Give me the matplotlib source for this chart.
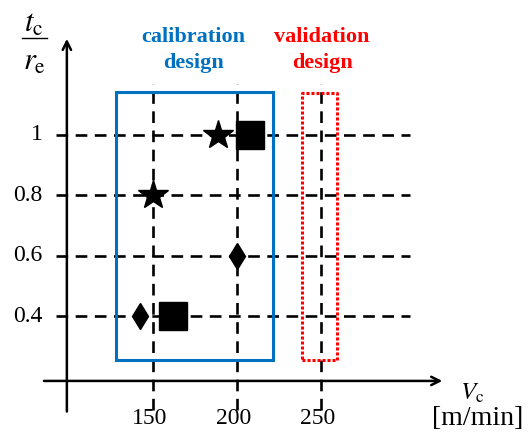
import matplotlib.pyplot as plt
from matplotlib.patches import Rectangle

plt.rcParams['lines.scale_dashes'] = False
plt.rcParams['mathtext.fontset'] = 'stix'

# grid levels of the design space
vc_levels = [150, 200, 250]
ratio_levels = [0.4, 0.6, 0.8, 1.0]
vc_tick_labels = ['150', '200', '250']
ratio_tick_labels = ['0.4', '0.6', '0.8', '1']

# calibration experiments, grouped by marker
star_vc = [189, 150]
star_ratio = [1.0, 0.8]
square_vc = [208, 162]
square_ratio = [1.0, 0.4]
diamond_vc = [200, 142.5]
diamond_ratio = [0.6, 0.4]

# design regions (Vc range, ratio range)
calib_vc = [128.5, 221.7]
calib_ratio = [0.256, 1.14]
valid_vc = [239.0, 259.8]
valid_ratio = [0.256, 1.137]

BLUE = '#0070C0'
RED = '#FF0000'

fig = plt.figure(figsize=(5.29, 4.37), dpi=100)
ax = fig.add_axes([0, 0, 1, 1])
ax.set_xlim(59.2, 374.1)
ax.set_ylim(0.002, 1.444)
ax.axis('off')

dash = (0, (8.4, 5.4))

# dashed grid
ax.hlines(ratio_levels, 92.3, 303.3, colors='black', linewidth=1.9, linestyles=[dash])
ax.vlines(vc_levels, 0.091, 1.167, colors='black', linewidth=1.9, linestyles=[dash])

# axes with arrows
arrow = dict(arrowstyle='->,head_length=0.6,head_width=0.3', lw=1.8, color='black',
             shrinkA=0, shrinkB=0)
ax.annotate('', xy=(99, 1.316), xytext=(99, 0.086), arrowprops=arrow)
ax.annotate('', xy=(322.5, 0.187), xytext=(85.4, 0.187), arrowprops=arrow)

# design regions
ax.add_patch(Rectangle((calib_vc[0], calib_ratio[0]), calib_vc[1] - calib_vc[0],
                       calib_ratio[1] - calib_ratio[0], fill=False, edgecolor=BLUE,
                       linewidth=2.2, zorder=3))
ax.add_patch(Rectangle((valid_vc[0], valid_ratio[0]), valid_vc[1] - valid_vc[0],
                       valid_ratio[1] - valid_ratio[0], fill=False, edgecolor=RED,
                       linewidth=2.2, linestyle=(0, (2.2, 1.4)), joinstyle='round', zorder=3))

# experiment points
ax.plot(star_vc, star_ratio, linestyle='none', marker='*', markersize=22, color='black', zorder=4)
ax.plot(square_vc, square_ratio, linestyle='none', marker='s', markersize=20, color='black', zorder=4)
ax.plot(diamond_vc, diamond_ratio, linestyle='none', marker='d', markersize=13.5, color='black', zorder=4)

# tick labels
for v, lab in zip(vc_levels, vc_tick_labels):
    ax.text(v - 1.5, 0.064, lab, ha='center', va='center', fontsize=17, family='Liberation Serif')
for r, lab in zip(ratio_levels, ratio_tick_labels):
    ax.text(84.5, r, lab, ha='right', va='center', fontsize=17, family='Liberation Serif')

# y axis title as a stacked fraction t_c / r_e
ax.text(79.5, 1.366, r'$t_\mathrm{c}$', ha='center', va='center', fontsize=22)
ax.plot([72.3, 86.9], [1.318, 1.318], color='black', linewidth=1.0)
ax.text(79.5, 1.240, r'$r_\mathrm{e}$', ha='center', va='center', fontsize=22)

# x axis title
ax.text(340.5, 0.147, r'$V_\mathrm{c}$', ha='center', va='center', fontsize=18)
ax.text(343.5, 0.062, '[m/min]', ha='center', va='center', fontsize=20, family='Liberation Serif')

# region titles
for txt, y in [('calibration', 1.307), ('design', 1.221)]:
    ax.text(174.1, y, txt, ha='center', va='baseline', fontsize=16,
            fontweight='bold', color=BLUE, family='Liberation Serif')
for txt, y in [('validation', 1.307), ('design', 1.221)]:
    ax.text(250.9, y, txt, ha='center', va='baseline', fontsize=16,
            fontweight='bold', color=RED, family='Liberation Serif')

fig.savefig('out.png', dpi=100)
